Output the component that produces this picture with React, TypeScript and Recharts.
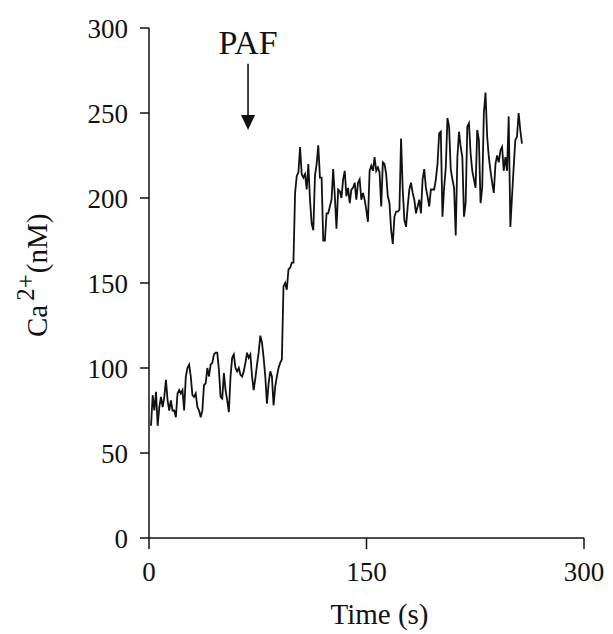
import React from 'react';
import { LineChart, Line, XAxis, YAxis, ReferenceLine } from 'recharts';

const FONT = '"Liberation Serif", "Times New Roman", Times, serif';

// Cytosolic Ca2+ (nM), sampled at a fixed interval
const SAMPLE_START_S = 1.4;
const SAMPLE_PERIOD_S = 1.142;

const caBaseline = [
  66, 84, 75, 86, 66, 77, 83, 77, 83, 93, 81, 75, 81, 75, 75, 71, 85, 87, 85, 87,
  75, 95, 100, 102, 95, 84, 83, 85, 77, 75, 71, 75, 90, 91, 100, 95, 102, 103, 108,
  109, 109, 99, 83, 82, 97, 87, 81, 74, 95, 106, 108, 100, 98, 100, 96, 95, 98, 103, 109,
  106, 108, 95, 87, 94, 102, 109, 119, 115, 106, 95, 79, 91, 98, 95, 78, 89, 95, 100, 103,
];

const caRise = [
  105, 148, 150, 146, 158, 159, 162, 162, 203, 213, 215, 230, 214, 212, 214, 205, 220, 199,
  185, 181, 213, 220, 231, 212, 212, 175, 175, 191, 191, 195, 199, 217, 201, 182, 205, 204, 200,
];

const caPlateau = [
  211, 216, 201, 206, 197, 205, 206, 209, 199, 209, 211, 199, 203, 199, 193, 186, 216, 219,
  216, 224, 216, 218, 215, 195, 221, 220, 214, 201, 197, 181, 173, 189, 192, 192, 193, 235, 205,
  187, 183, 195, 205, 209, 203, 199, 191, 195, 199, 191, 211, 217, 206, 201, 195, 205, 205,
  205, 211, 220, 238, 239, 189, 206, 218, 247, 242, 217, 211, 206, 178, 224, 239, 230, 224, 189, 197,
  242, 244, 226, 216, 211, 206, 240, 234, 197, 206, 250, 262, 236, 224, 216, 209, 203, 220,
  225, 221, 228, 230, 216, 224, 216, 248, 183, 201, 218, 234, 236, 250, 240, 232,
];

const caValues = [...caBaseline, ...caRise, ...caPlateau];
const timeValues = caValues.map((_, i) => +(SAMPLE_START_S + i * SAMPLE_PERIOD_S).toFixed(2));

const xTicks = [0, 150, 300];
const yTicks = [0, 50, 100, 150, 200, 250, 300];

// PAF addition marker (time, from / to Ca level)
const pafTime = 68.3;
const pafFrom = 279;
const pafTo = 240;
const pafText = 'PAF';

const data = timeValues.map((t, i) => ({ t, ca: caValues[i] }));

const YLabel = (props: any) => {
  const vb = props.viewBox || { x: 89, y: 28, width: 60, height: 510 };
  const x = vb.x - 42;
  const y = vb.y + 309;
  return (
    <text
      x={x}
      y={y}
      transform={`rotate(-90 ${x} ${y})`}
      fontFamily={FONT}
      fontSize={29}
      fill="#111"
      textAnchor="start"
    >
      <tspan>Ca</tspan>
      <tspan dx={4} dy={-13} fontSize={25}>2+</tspan>
      <tspan dx={1} dy={13} fontSize={29}>(nM)</tspan>
    </text>
  );
};

const ArrowShape = (props: any) => {
  const { x1, y1, x2, y2 } = props;
  const head = 15;
  return (
    <g>
      <line x1={x1} y1={y1} x2={x2} y2={y2 - head + 1} stroke="#111" strokeWidth={1.6} />
      <polygon
        points={`${x2 - 7},${y2 - head} ${x2 + 7},${y2 - head} ${x2},${y2}`}
        fill="#111"
      />
      <text
        x={x1}
        y={y1 - 10}
        textAnchor="middle"
        fontFamily={FONT}
        fontSize={34}
        fill="#111"
      >
        {pafText}
      </text>
    </g>
  );
};

export default function App() {
  return (
    <div style={{ position: 'absolute', left: 0, top: 0, background: '#fff' }}>
      <LineChart
        width={613}
        height={634}
        data={data}
        margin={{ top: 28, right: 29, bottom: 0, left: 89 }}
      >
        <XAxis
          dataKey="t"
          type="number"
          domain={[0, 300]}
          ticks={xTicks}
          allowDataOverflow
          height={96}
          tickSize={11}
          tickMargin={13}
          stroke="#111"
          strokeWidth={1.5}
          tick={{ fontFamily: FONT, fontSize: 27, fill: '#111' }}
          label={{
            value: 'Time (s)',
            position: 'insideBottom',
            offset: 10,
            dx: 13,
            style: { fontFamily: FONT, fontSize: 29, fill: '#111' },
          }}
        />
        <YAxis
          type="number"
          domain={[0, 300]}
          ticks={yTicks}
          width={60}
          tickSize={9}
          tickMargin={12}
          stroke="#111"
          strokeWidth={1.5}
          tick={{ fontFamily: FONT, fontSize: 27, fill: '#111' }}
          label={{ content: (p: any) => <YLabel {...p} /> }}
        />
        <Line
          type="linear"
          dataKey="ca"
          stroke="#111"
          strokeWidth={1.8}
          dot={false}
          isAnimationActive={false}
        />
        <ReferenceLine
          segment={[
            { x: pafTime, y: pafFrom },
            { x: pafTime, y: pafTo },
          ]}
          ifOverflow="visible"
          shape={(p: any) => <ArrowShape {...p} />}
        />
      </LineChart>
    </div>
  );
}
